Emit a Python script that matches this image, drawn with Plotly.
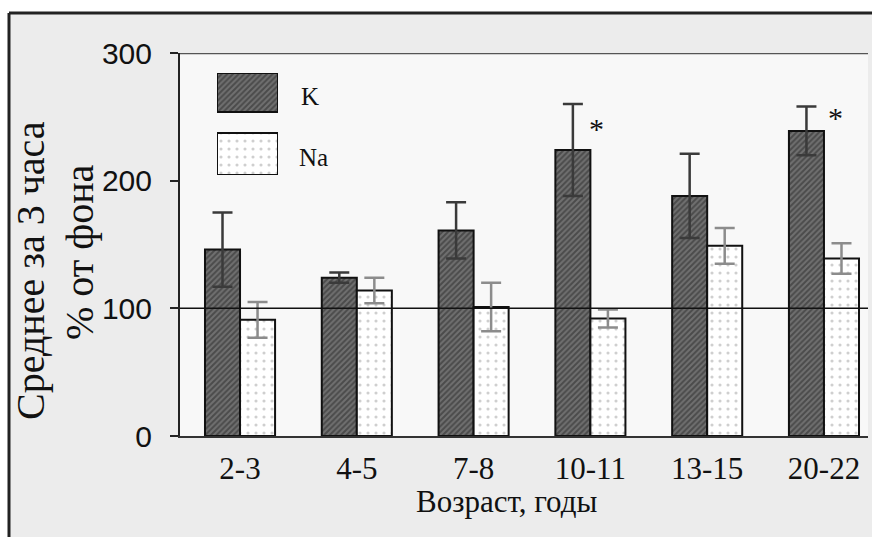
import plotly.graph_objects as go

# ---- data ----
categories = ["2-3", "4-5", "7-8", "10-11", "13-15", "20-22"]
k_values = [146, 124, 161, 224, 188, 239]
k_errors = [29, 4, 22, 36, 33, 19]
na_values = [91, 114, 101, 92, 149, 139]
na_errors = [14, 10, 19, 7, 14, 12]
y_ticks = [0, 100, 200, 300]
series_names = ["K", "Na"]
significant = ["10-11", "20-22"]

W, H = 872, 537
# plot area in pixel coordinates
PL, PR, PT, PB = 180, 868, 53, 436
L, T = PL, PT
R, B = W - PR, H - PB
PW, PH = PR - PL, PB - PT


def px_x(p):
    return (p - PL) / PW


def px_y(p):
    return (PB - p) / PH


serif = "Liberation Serif, Times New Roman, serif"
sans = "Liberation Sans, Arial, sans-serif"

k_pattern = dict(shape="/", fgcolor="#262626", bgcolor="#707070", size=4, solidity=0.5)
na_pattern = dict(shape=".", fgcolor="#a0a0a0", bgcolor="#ffffff", size=8, solidity=0.12)

fig = go.Figure()
fig.add_trace(go.Bar(
    x=categories, y=k_values, name=series_names[0],
    marker=dict(color="#707070", pattern=k_pattern, line=dict(color="#111", width=2)),
    error_y=dict(type="data", array=k_errors, color="#3a3a3a", thickness=2.5, width=10),
    showlegend=False,
))
fig.add_trace(go.Bar(
    x=categories, y=na_values, name=series_names[1],
    marker=dict(color="#ffffff", pattern=na_pattern, line=dict(color="#111", width=2)),
    error_y=dict(type="data", array=na_errors, color="#8c8c8c", thickness=2.5, width=10),
    showlegend=False,
))

# legend glyphs on an overlay axis
fig.add_trace(go.Bar(
    x=[0], y=[0.382], base=[0.618], width=[1], offset=-0.5,
    marker=dict(color="#707070", pattern=k_pattern, line=dict(color="#111", width=2)),
    xaxis="x2", yaxis="y2", showlegend=False, hoverinfo="skip",
))
fig.add_trace(go.Bar(
    x=[0], y=[0.412], base=[0], width=[1], offset=-0.5,
    marker=dict(color="#ffffff", pattern=na_pattern, line=dict(color="#111", width=2)),
    xaxis="x2", yaxis="y2", showlegend=False, hoverinfo="skip",
))

fx0, fy1 = px_x(9), px_y(13)
shapes = [
    # white strips outside the outer frame (paper itself is the frame colour)
    dict(type="rect", xref="paper", yref="paper", x0=px_x(0), x1=px_x(W), y0=fy1, y1=px_y(0),
         fillcolor="#ffffff", line=dict(width=0), layer="below"),
    dict(type="rect", xref="paper", yref="paper", x0=px_x(0), x1=fx0, y0=px_y(H), y1=px_y(0),
         fillcolor="#ffffff", line=dict(width=0), layer="below"),
    # outer frame top and left borders
    dict(type="line", xref="paper", yref="paper", x0=fx0, x1=px_x(W + 20), y0=fy1, y1=fy1,
         line=dict(color="#222", width=3), layer="below"),
    dict(type="line", xref="paper", yref="paper", x0=fx0, x1=fx0, y0=px_y(H + 20), y1=fy1,
         line=dict(color="#222", width=3), layer="below"),
    # plot area
    dict(type="rect", xref="paper", yref="paper", x0=0, x1=1, y0=0, y1=1,
         fillcolor="#f8f8f8", line=dict(width=0), layer="below"),
    # reference line at 100
    dict(type="line", xref="paper", yref="y", x0=0, x1=1, y0=100, y1=100,
         line=dict(color="#111", width=1.5), layer="above"),
    # top line at 300
    dict(type="line", xref="paper", yref="y", x0=0, x1=1, y0=300, y1=300,
         line=dict(color="#555", width=2.5), layer="above"),
]

annotations = [
    dict(text="Среднее за 3 часа", xref="paper", yref="paper", x=px_x(30), y=px_y(271),
         textangle=-90, showarrow=False, font=dict(family=serif, size=40, color="#111"),
         xanchor="center", yanchor="middle"),
    dict(text="% от фона", xref="paper", yref="paper", x=px_x(79), y=px_y(252),
         textangle=-90, showarrow=False, font=dict(family=serif, size=40, color="#111"),
         xanchor="center", yanchor="middle"),
    dict(text="Возраст, годы", xref="paper", yref="paper", x=px_x(506), y=px_y(501),
         showarrow=False, font=dict(family=serif, size=31, color="#111"),
         xanchor="center", yanchor="middle"),
    dict(text=series_names[0], xref="paper", yref="paper", x=px_x(299), y=px_y(96),
         showarrow=False, font=dict(family=serif, size=25, color="#111"),
         xanchor="left", yanchor="middle"),
    dict(text=series_names[1], xref="paper", yref="paper", x=px_x(297), y=px_y(157),
         showarrow=False, font=dict(family=serif, size=25, color="#111"),
         xanchor="left", yanchor="middle"),
]
star_shift = {"10-11": (6, -24), "20-22": (12, -11)}
for c in significant:
    i = categories.index(c)
    dx, dy = star_shift[c]
    annotations.append(dict(text="*", x=c, y=k_values[i] + k_errors[i], xref="x", yref="y",
                            xshift=dx, yshift=dy, showarrow=False,
                            font=dict(family=serif, size=30, color="#111"),
                            xanchor="center", yanchor="middle"))

fig.update_layout(
    width=W, height=H,
    margin=dict(l=L, r=R, t=T, b=B, pad=0),
    paper_bgcolor="#ececec",
    plot_bgcolor="rgba(0,0,0,0)",
    barmode="group", bargap=0.40, bargroupgap=0,
    xaxis=dict(
        type="category", range=[-0.514, 5.377], showgrid=False, zeroline=False,
        showline=True, linecolor="#333", linewidth=2, ticks="",
        tickfont=dict(family=serif, size=31, color="#111"), ticklabelstandoff=4,
    ),
    yaxis=dict(
        range=[0, 300], tickvals=y_ticks, showgrid=False, zeroline=False,
        showline=True, linecolor="#222", linewidth=2, ticks="outside", ticklen=8,
        tickwidth=2, tickcolor="#222",
        tickfont=dict(family=sans, size=30, color="#111"), ticklabelstandoff=12,
    ),
    xaxis2=dict(domain=[px_x(217), px_x(278)], range=[-0.5, 0.5], visible=False,
                anchor="y2", fixedrange=True),
    yaxis2=dict(domain=[px_y(175), px_y(73)], range=[0, 1], visible=False,
                anchor="x2", fixedrange=True),
    shapes=shapes,
    annotations=annotations,
    showlegend=False,
)

fig.write_html(
    "out.html",
    config={"displayModeBar": False},
    post_script=(
        "document.documentElement.style.overflow='hidden';"
        "document.body.style.margin='0px';document.body.style.overflow='hidden';"
    ),
)
